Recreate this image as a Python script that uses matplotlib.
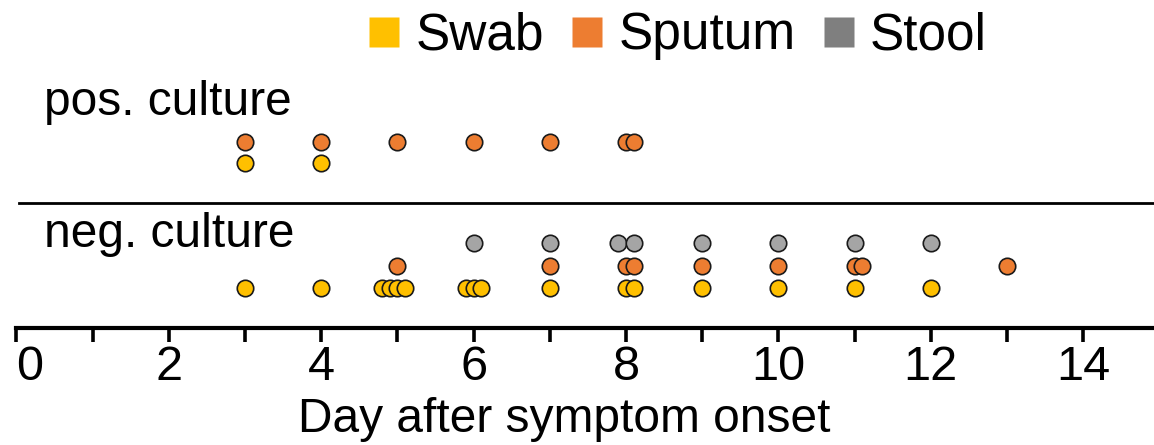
import matplotlib
matplotlib.use("Agg")
import matplotlib.pyplot as plt
from matplotlib.lines import Line2D

plt.rcParams['font.family'] = ['Liberation Sans', 'DejaVu Sans']

# ---- data (day after symptom onset) ----
specimen_types = ["Swab", "Sputum", "Stool"]
pos_sputum_days = [3, 4, 5, 6, 7, 8, 8.1]
pos_swab_days = [3, 4]
neg_stool_days = [6, 7, 7.9, 8.1, 9, 10, 11, 12]
neg_sputum_days = [5, 7, 8, 8.1, 9, 10, 11, 11.1, 13]
neg_swab_days = [3, 4, 4.8, 4.9, 5, 5.1, 5.9, 6, 6.1, 7, 8, 8.1, 9, 10, 11, 12]
major_ticks = [0, 2, 4, 6, 8, 10, 12, 14]
minor_ticks = [1, 3, 5, 7, 9, 11, 13]
group_labels = ["pos. culture", "neg. culture"]
x_label = "Day after symptom onset"

# ---- styling ----
W, H = 1154, 445
c_swab = "#FFC000"
c_sputum = "#ED7D31"
c_stool = "#A5A5A5"
c_stool_leg = "#7F7F7F"
edge = "#1a1a1a"

fig = plt.figure(figsize=(W / 100, H / 100), dpi=100)
x0 = 16.4
ax_bottom = 328
ax = fig.add_axes([x0 / W, (H - ax_bottom) / H, 1 - x0 / W, ax_bottom / H])
ax.set_xlim(0, (W - x0) / 76.2)
ax.set_ylim(ax_bottom, 0)

# row positions (pixel-like layout coordinates)
y_pos_sputum, y_pos_swab = 141.7, 162.5
y_neg_stool, y_neg_sputum, y_neg_swab = 243, 265.5, 288

ms = 140
kw = dict(s=ms, edgecolors=edge, linewidths=1.2, zorder=3, clip_on=False)
ax.scatter(pos_sputum_days, [y_pos_sputum] * len(pos_sputum_days), c=c_sputum, **kw)
ax.scatter(pos_swab_days, [y_pos_swab] * len(pos_swab_days), c=c_swab, **kw)
ax.scatter(neg_stool_days, [y_neg_stool] * len(neg_stool_days), c=c_stool, **kw)
ax.scatter(neg_sputum_days, [y_neg_sputum] * len(neg_sputum_days), c=c_sputum, **kw)
ax.scatter(neg_swab_days, [y_neg_swab] * len(neg_swab_days), c=c_swab, **kw)

# separator line
ax.axhline(203.3, xmin=0.002, color="black", lw=2.0, zorder=2)

# spines / ticks
for s in ["top", "right", "left"]:
    ax.spines[s].set_visible(False)
ax.spines["bottom"].set_linewidth(3.0)
ax.set_yticks([])
ax.set_xticks(major_ticks)
ax.set_xticks(minor_ticks, minor=True)
ax.set_xticklabels([str(t) for t in major_ticks])
ax.tick_params(axis="x", which="both", direction="out", length=10, width=2.6,
               labelsize=35, pad=2.5)
labels = ax.get_xticklabels()
labels[0].set_horizontalalignment("left")

# group labels
fig.text(44 / W, (H - 115) / H, group_labels[0], fontsize=34.5, va="baseline", ha="left")
fig.text(44 / W, (H - 247) / H, group_labels[1], fontsize=34.5, va="baseline", ha="left")

# x label
fig.text(564 / W, (H - 432) / H, x_label, fontsize=34.5, va="baseline", ha="center")

# legend
handles = [Line2D([], [], marker="s", linestyle="none", markersize=21,
                  markerfacecolor=c, markeredgecolor="none")
           for c in (c_swab, c_sputum, c_stool_leg)]
fig.legend(handles, specimen_types, loc="center",
           bbox_to_anchor=(678 / W, (H - 36) / H), ncol=3, frameon=False,
           fontsize=37, handlelength=0.6, handletextpad=0.3, columnspacing=0.55,
           borderpad=0.0)

fig.savefig("out.png", dpi=100)
